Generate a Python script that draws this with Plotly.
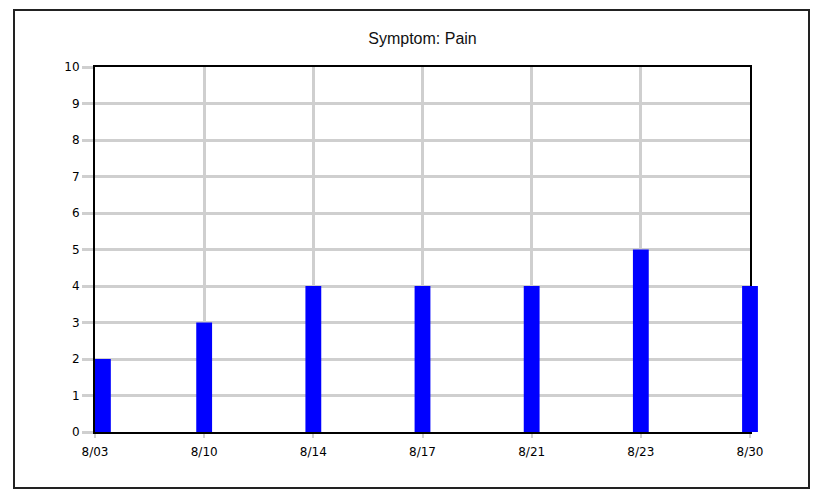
import plotly.graph_objects as go

dates = ["8/03", "8/10", "8/14", "8/17", "8/21", "8/23", "8/30"]
pain = [2, 3, 4, 4, 4, 5, 4]
y_ticks = list(range(0, 11))

positions = list(range(len(dates)))
bar_w = 0.145
offsets = [0.0] + [-bar_w / 2] * (len(dates) - 1)
last = positions[-1]

# pixel layout
L, R, T, B = 95, 57, 67, 58
plot_w = 815 - L - R          # 663 (includes room for last bar overhang)
frame_w = 750 - L             # 655 : visible plot frame width
dom1 = frame_w / plot_w
range2 = last * plot_w / frame_w

fig = go.Figure()
# invisible trace that anchors the framed subplot (grid, ticks, frame)
fig.add_trace(
    go.Scatter(
        x=positions,
        y=pain,
        mode="markers",
        marker=dict(opacity=0),
        hoverinfo="skip",
        xaxis="x",
        yaxis="y",
    )
)
# visible bars on an overlapping subplot so the last bar may overhang the frame
fig.add_trace(
    go.Bar(
        x=positions,
        y=pain,
        width=bar_w,
        offset=offsets,
        marker=dict(color="#0000FF", line=dict(width=0)),
        hoverinfo="y",
        xaxis="x2",
        yaxis="y2",
    )
)

title_font = "Liberation Sans, Arial, sans-serif"
tick_font = dict(family="DejaVu Sans, Verdana, sans-serif", size=12, color="black")
grid = "#cfcfcf"

fig.update_layout(
    width=815,
    height=490,
    margin=dict(l=L, r=R, t=T, b=B),
    paper_bgcolor="white",
    plot_bgcolor="rgba(0,0,0,0)",
    showlegend=False,
    font=dict(family=title_font, size=11, color="black"),
    title=dict(
        text="Symptom: Pain",
        x=(95 + 750) / 2 / 815,
        xanchor="center",
        y=1 - 38 / 490,
        yanchor="middle",
        font=dict(family=title_font, size=16, color="#111111"),
    ),
    xaxis=dict(
        domain=[0, dom1],
        range=[0, last],
        tickmode="array",
        tickvals=positions,
        ticktext=dates,
        tickfont=tick_font,
        showgrid=True,
        gridcolor=grid,
        gridwidth=2.5,
        zeroline=False,
        showline=True,
        mirror=True,
        linecolor="black",
        linewidth=2,
        ticks="outside",
        ticklen=4,
        tickcolor=grid,
        tickwidth=2,
        ticklabelstandoff=4,
        fixedrange=True,
    ),
    yaxis=dict(
        range=[0, 10],
        tickmode="array",
        tickvals=y_ticks,
        tickfont=tick_font,
        showgrid=True,
        gridcolor=grid,
        gridwidth=2.5,
        zeroline=False,
        showline=True,
        mirror=True,
        linecolor="black",
        linewidth=2,
        ticks="outside",
        ticklen=11,
        tickcolor=grid,
        tickwidth=2.5,
        fixedrange=True,
    ),
    xaxis2=dict(
        domain=[0, 1],
        range=[0, range2],
        anchor="y2",
        visible=False,
        fixedrange=True,
    ),
    yaxis2=dict(
        domain=[0, 1],
        range=[0, 10],
        anchor="x2",
        visible=False,
        fixedrange=True,
    ),
    shapes=[
        dict(type="rect", xref="paper", yref="paper",
             x0=(14 - L) / plot_w, x1=(809 - L) / plot_w,
             y0=(2 - B) / (490 - T - B), y1=(480 - B) / (490 - T - B),
             line=dict(color="#222222", width=2), fillcolor="rgba(0,0,0,0)", layer="above"),
    ],
)

fig.write_html(
    "out.html",
    config={"displayModeBar": False},
    post_script="document.body.style.margin='0';",
)
